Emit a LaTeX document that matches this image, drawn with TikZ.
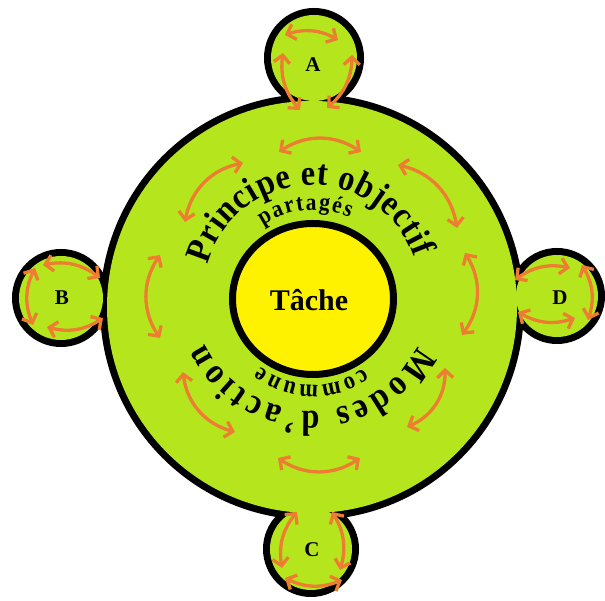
\documentclass[tikz,border=0pt]{standalone}
\usepackage{fontspec}
\setmainfont{Liberation Serif}
\newfontfamily\arcfont[FakeStretch=0.9]{Liberation Serif}
\usetikzlibrary{arrows.meta,decorations.text,calc}
\definecolor{paintgreen}{HTML}{B5E61D}
\definecolor{paintyellow}{HTML}{FFF200}
\definecolor{arroworange}{HTML}{ED7D31}
\begin{document}
\begin{tikzpicture}[x=1pt,y=1pt,
  dbl/.style={draw=arroworange, line width=3.3pt, line cap=round,
    {Straight Barb[length=7.5pt,width=16pt]}-{Straight Barb[length=7.5pt,width=16pt]}},
  ringarrow/.style={dbl, bend left=34},
  smallarrow/.style={dbl, bend left=24},
  lbl/.style={font=\bfseries\fontsize{21}{21}\selectfont, anchor=base, inner sep=0pt},
  outline/.style={draw=black, line width=14pt},
]
\clip (0,0) rectangle (605,601);
% centres
\coordinate (cM) at (312,294);
\coordinate (cY) at (313,302);
\coordinate (cA) at (314,543);
\coordinate (cB) at (61,303);
\coordinate (cC) at (311,52);
\coordinate (cD) at (557,305);
% black outline of the union
\path[outline] (cM) ellipse[x radius=205, y radius=206];
\path[outline] (cA) circle[radius=43];
\path[outline] (cB) circle[radius=42];
\path[outline] (cC) circle[radius=41];
\path[outline] (cD) circle[radius=41];
% green fill
\fill[paintgreen] (cM) ellipse[x radius=205, y radius=206];
\fill[paintgreen] (cA) circle[radius=43];
\fill[paintgreen] (cB) circle[radius=42];
\fill[paintgreen] (cC) circle[radius=41];
\fill[paintgreen] (cD) circle[radius=41];
% centre task
\draw[line width=7pt, fill=paintyellow] (cY) ellipse[x radius=80.5, y radius=75.5];
\node[font=\bfseries\fontsize{30}{30}\selectfont, anchor=base, inner sep=0pt] (tache) at (309,290) {Tâche};
% labels
\node[lbl] (labA) at (313,529) {A};
\node[lbl] (labB) at (62,296) {B};
\node[lbl] (labC) at (312,44) {C};
\node[lbl] (labD) at (560,296) {D};
% curved texts
\coordinate (tT) at (312,308);
\coordinate (tB) at (312,309);
\coordinate (tI) at (313,301);
\path[decorate, decoration={text along path, text align={fit to path},
  text={|\arcfont\bfseries\fontsize{36}{36}\selectfont|Principe et objectif}}]
  ($(tT)+(165:108)$) arc[start angle=165, end angle=19, radius=108];
\path[decorate, decoration={text along path, text align={fit to path},
  text={|\arcfont\bfseries\fontsize{24}{24}\selectfont|partagés}}]
  ($(tI)+(124:90)$) arc[start angle=124, end angle=66, radius=90];
\path[decorate, decoration={text along path, text align={fit to path},
  text={|\arcfont\bfseries\fontsize{36}{36}\selectfont|Modes d’action}}]
  ($(tB)+(-27:119)$) arc[start angle=-27, end angle=-154, radius=119];
\path[decorate, decoration={text along path, text align={fit to path},
  text={|\arcfont\bfseries\fontsize{25}{25}\selectfont|commune}}]
  ($(tI)+(-54:85)$) arc[start angle=-54, end angle=-128, radius=85];
% ring arrows
\coordinate (r1a) at (279,449); \coordinate (r1b) at (361,449);
\coordinate (r2a) at (185,379); \coordinate (r2b) at (243,438);
\coordinate (r3a) at (398,436); \coordinate (r3b) at (457,373);
\coordinate (r4a) at (160,263); \coordinate (r4b) at (160,346);
\coordinate (r5a) at (465,348); \coordinate (r5b) at (462,266);
\coordinate (r6a) at (235,169); \coordinate (r6b) at (183,229);
\coordinate (r7a) at (445,233); \coordinate (r7b) at (407,174);
\coordinate (r8a) at (360,143); \coordinate (r8b) at (278,143);
\foreach \i in {1,...,8} { \draw[ringarrow] (r\i a) to (r\i b); }
% small circle arrows
\coordinate (a1a) at (285,566); \coordinate (a1b) at (338,561);
\coordinate (a2a) at (352,546); \coordinate (a2b) at (327,493);
\coordinate (a3a) at (300,491); \coordinate (a3b) at (283,548);
\coordinate (b1a) at (43,336);  \coordinate (b1b) at (100,323);
\coordinate (b2a) at (33,276);  \coordinate (b2b) at (35,333);
\coordinate (b3a) at (103,283); \coordinate (b3b) at (47,274);
\coordinate (d1a) at (515,321); \coordinate (d1b) at (570,333);
\coordinate (d2a) at (582,336); \coordinate (d2b) at (588,281);
\coordinate (d3a) at (575,283); \coordinate (d3b) at (518,289);
\coordinate (c1a) at (282,33);  \coordinate (c1b) at (297,89);
\coordinate (c2a) at (332,89);  \coordinate (c2b) at (340,31);
\coordinate (c3a) at (342,21);  \coordinate (c3b) at (285,23);
\foreach \s in {a,b,c,d} { \foreach \i in {1,2,3} { \draw[smallarrow] (\s\i a) to (\s\i b); } }
\end{tikzpicture}
\end{document}
